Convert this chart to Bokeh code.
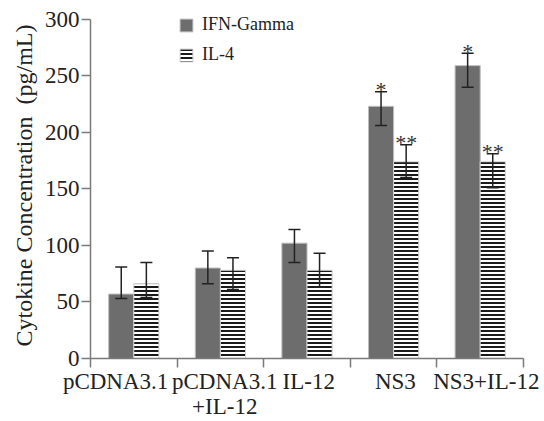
from bokeh.plotting import figure
from bokeh.models import (ColumnDataSource, Range1d, FixedTicker, Whisker, TeeHead,
                          Legend, LegendItem)
from bokeh.core.properties import value
from bokeh.embed import file_html
from bokeh.resources import INLINE

# ---- data ----
groups = ["pCDNA3.1", "pCDNA3.1\n+IL-12", "IL-12", "NS3", "NS3+IL-12"]
ifn = [57, 80, 102, 223, 259]
ifn_upper = [81, 95, 114, 236, 270]
ifn_lower = [53, 66, 85, 206, 240]
il4 = [66, 78, 78, 174, 174]
il4_upper = [85, 89, 93, 189, 181]
il4_lower = [54, 61, 63, 160, 151]
ifn_marks = ["", "", "", "*", "*"]
il4_marks = ["", "", "", "**", "**"]
y_ticks = [0, 50, 100, 150, 200, 250, 300]

# ---- layout helpers ----
bar_w = 0.29
label_pos = [0.29, 1.55, 2.52, 3.52, 4.57]
FONT = "Liberation Serif"

n = len(groups)
centers = [i + 0.5 for i in range(n)]
x_ifn = [c - bar_w / 2 for c in centers]
x_il4 = [c + bar_w / 2 for c in centers]

src_ifn = ColumnDataSource(dict(x=x_ifn, top=ifn, upper=ifn_upper, lower=ifn_lower, mark=ifn_marks))
src_il4 = ColumnDataSource(dict(x=x_il4, top=il4, upper=il4_upper, lower=il4_lower, mark=il4_marks))

p = figure(width=544, height=421, output_backend="svg", toolbar_location=None,
           x_range=Range1d(0, 5), y_range=Range1d(0, 306),
           min_border_left=90, min_border_right=21, min_border_top=12, min_border_bottom=60)
p.outline_line_color = None
p.grid.visible = False
p.background_fill_color = "white"

r_ifn = p.vbar(x="x", top="top", bottom=0, width=bar_w, source=src_ifn,
               fill_color="#6d6d6d", line_color="#bdbdbd", line_width=1)
r_il4 = p.vbar(x="x", top="top", bottom=0, width=bar_w, source=src_il4,
               fill_color="white", line_color="#cfcfcf", line_width=1,
               hatch_pattern="horizontal_line", hatch_scale=4, hatch_weight=2,
               hatch_color="#1a1a1a")

for src in (src_ifn, src_il4):
    w = Whisker(source=src, base="x", upper="upper", lower="lower", dimension="height",
                line_color="#222222", line_width=1.5, level="overlay",
                upper_head=TeeHead(size=12, line_color="#222222", line_width=1.5),
                lower_head=TeeHead(size=12, line_color="#222222", line_width=1.5))
    p.add_layout(w)
    p.text(x="x", y="upper", text="mark", source=src, text_align="center",
           text_baseline="alphabetic", y_offset=-2, text_font=value(FONT),
           text_font_size="22px", text_color="#333333")

# axes
AX = "#7a7a7a"
yax = p.yaxis[0]
yax.ticker = FixedTicker(ticks=y_ticks)
yax.bounds = (0, 300)
yax.major_tick_out = 9
yax.major_tick_in = 0
yax.minor_tick_out = 0
yax.minor_tick_in = 0
yax.major_label_standoff = 2
yax.axis_line_color = AX
yax.axis_line_width = 1.5
yax.major_tick_line_color = AX
yax.major_tick_line_width = 1.5
yax.major_label_text_font = FONT
yax.major_label_text_font_size = "23px"
yax.major_label_text_color = "#222222"
yax.axis_label = "Cytokine Concentration\u00a0 (pg/mL)"
yax.axis_label_text_font = FONT
yax.axis_label_text_font_size = "24px"
yax.axis_label_text_font_style = "normal"
yax.axis_label_text_color = "#222222"
yax.axis_label_standoff = 5

xax = p.xaxis[0]
xax.ticker = FixedTicker(ticks=label_pos, minor_ticks=[0, 1, 2, 3, 4, 5])
xax.major_label_overrides = {pos: g for pos, g in zip(label_pos, groups)}
xax.major_tick_out = 0
xax.major_tick_in = 0
xax.minor_tick_out = 9
xax.minor_tick_in = 0
xax.minor_tick_line_color = AX
xax.minor_tick_line_width = 1.5
xax.axis_line_color = AX
xax.axis_line_width = 1.5
xax.major_label_standoff = 1
xax.major_label_text_line_height = 1.0
xax.major_label_text_font = FONT
xax.major_label_text_font_size = "23px"
xax.major_label_text_color = "#222222"

legend = Legend(items=[LegendItem(label="IFN-Gamma", renderers=[r_ifn]),
                       LegendItem(label="IL-4", renderers=[r_il4])],
                location=(88, 293), padding=0, margin=0, spacing=9,
                glyph_width=16, glyph_height=16, label_height=16, label_standoff=8,
                label_text_font=FONT, label_text_font_size="18px", label_text_color="#222222",
                border_line_alpha=0, background_fill_alpha=0)
p.add_layout(legend)

open("out.html", "w").write(file_html(p, INLINE))
